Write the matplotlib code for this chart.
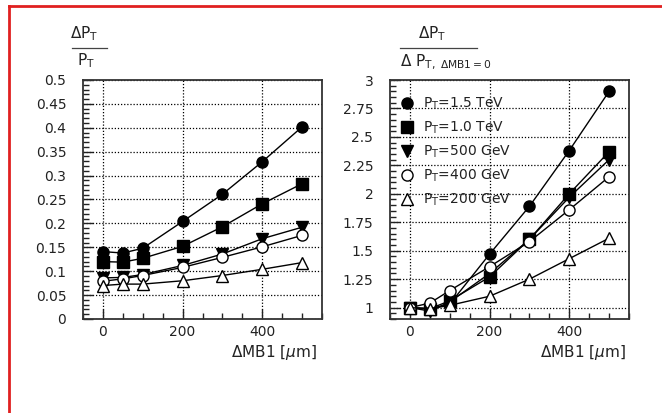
import matplotlib
matplotlib.use("Agg")
import matplotlib.pyplot as plt
from matplotlib.lines import Line2D
from matplotlib.ticker import MultipleLocator, FormatStrFormatter

# --------------------------------
# dados
# --------------------------------
mb1 = [0, 50, 100, 200, 300, 400, 500]

pt_labels = [r"P$_\mathrm{T}$=1.5 TeV", r"P$_\mathrm{T}$=1.0 TeV",
             r"P$_\mathrm{T}$=500 GeV", r"P$_\mathrm{T}$=400 GeV",
             r"P$_\mathrm{T}$=200 GeV"]

# dPt/Pt (esquerda)
res_1500 = [0.141, 0.138, 0.148, 0.204, 0.261, 0.329, 0.402]
res_1000 = [0.120, 0.119, 0.127, 0.152, 0.193, 0.241, 0.283]
res_500 = [0.086, 0.087, 0.093, 0.112, 0.136, 0.168, 0.192]
res_400 = [0.079, 0.084, 0.091, 0.108, 0.129, 0.151, 0.175]
res_200 = [0.070, 0.073, 0.073, 0.080, 0.091, 0.104, 0.118]

# dPt / dPt(MB1=0) (direita)
rel_1500 = [1.00, 0.99, 1.03, 1.47, 1.89, 2.38, 2.90]
rel_1000 = [1.00, 0.99, 1.06, 1.27, 1.60, 2.00, 2.37]
rel_500 = [1.00, 0.97, 1.05, 1.30, 1.60, 1.97, 2.30]
rel_400 = [1.00, 1.04, 1.15, 1.36, 1.58, 1.86, 2.15]
rel_200 = [1.00, 0.99, 1.02, 1.10, 1.25, 1.43, 1.61]

markers = [("o", "black"), ("s", "black"), ("v", "black"),
           ("o", "white"), ("^", "white")]

W, H = 662, 413
fig = plt.figure(figsize=(W / 100, H / 100), dpi=100)
plt.rcParams["font.family"] = "DejaVu Sans"


def px(x, y):
    return x / W, 1 - y / H


ax1 = fig.add_axes([83 / W, 1 - 319 / H, 239 / W, 239 / H])
ax2 = fig.add_axes([390 / W, 1 - 319 / H, 239 / W, 239 / H])

for ax, series in [(ax1, [res_1500, res_1000, res_500, res_400, res_200]),
                   (ax2, [rel_1500, rel_1000, rel_500, rel_400, rel_200])]:
    for vals, (m, fc), lab in zip(series, markers, pt_labels):
        ax.plot(mb1, vals, color="black", lw=1.0, marker=m, ms=8,
                mfc=fc, mec="black", mew=1.0, label=lab)
    ax.set_xlim(-50, 550)
    ax.xaxis.set_major_locator(MultipleLocator(200))
    ax.xaxis.set_minor_locator(MultipleLocator(50))
    ax.grid(True, which="major", color="black", ls=(0, (1, 1.5)), lw=0.9)
    ax.tick_params(which="both", direction="in", top=False, right=False,
                   labelsize=10, colors="#222222")
    ax.tick_params(which="major", length=7, width=1)
    ax.tick_params(which="minor", length=4, width=1)
    ax.tick_params(axis="x", pad=4)
    ax.tick_params(axis="y", pad=12)
    for s in ax.spines.values():
        s.set_color("#333333")
        s.set_linewidth(1.3)
    ax.yaxis.set_major_formatter(FormatStrFormatter("%g"))
    ax.xaxis.set_major_formatter(FormatStrFormatter("%g"))

ax1.set_ylim(0, 0.5)
ax1.yaxis.set_major_locator(MultipleLocator(0.05))
ax1.yaxis.set_minor_locator(MultipleLocator(0.01))

ax2.set_ylim(0.9, 3)
ax2.yaxis.set_major_locator(MultipleLocator(0.25))
ax2.yaxis.set_minor_locator(MultipleLocator(0.05))

# legenda so com marcadores
handles = [Line2D([], [], ls="none", marker=m, ms=8, mfc=fc, mec="black",
                  mew=1.0) for m, fc in markers]
ax2.legend(handles, pt_labels, loc="upper left", frameon=False,
           bbox_to_anchor=(0.0, 0.975), fontsize=10, handlelength=1.0,
           handletextpad=0.7, labelspacing=0.55, borderaxespad=0.3,
           labelcolor="#222222")

# rotulo do eixo x
for xr in (317, 626):
    fig.text(*px(xr, 352), r"$\Delta$MB1 [$\mu$m]", ha="right", va="center",
             fontsize=11, color="#222222")

# rotulos do eixo y em forma de fracao
fig.text(*px(84, 34), r"$\Delta$P$_\mathrm{T}$", ha="center", va="center",
         fontsize=11, color="#222222")
fig.add_artist(Line2D([72 / W, 107 / W], [1 - 48 / H] * 2,
                      transform=fig.transFigure, color="#444444", lw=0.9))
fig.text(*px(86, 61), r"P$_\mathrm{T}$", ha="center", va="center",
         fontsize=11, color="#222222")

fig.text(*px(432, 34), r"$\Delta$P$_\mathrm{T}$", ha="center", va="center",
         fontsize=11, color="#222222")
fig.add_artist(Line2D([400 / W, 477 / W], [1 - 48 / H] * 2,
                      transform=fig.transFigure, color="#444444", lw=0.9))
fig.text(*px(400, 62), r"$\Delta$ P$_\mathrm{T,\ \Delta MB1=0}$", ha="left",
         va="center", fontsize=11, color="#222222")

# moldura vermelha (topo e esquerda)
fig.add_artist(Line2D([8.5 / W, 1], [1 - 5.5 / H] * 2,
                      transform=fig.transFigure, color="#e02020", lw=2))
fig.add_artist(Line2D([8.5 / W] * 2, [0, 1 - 5.5 / H],
                      transform=fig.transFigure, color="#e02020", lw=2))

fig.savefig("out.png", dpi=100)
